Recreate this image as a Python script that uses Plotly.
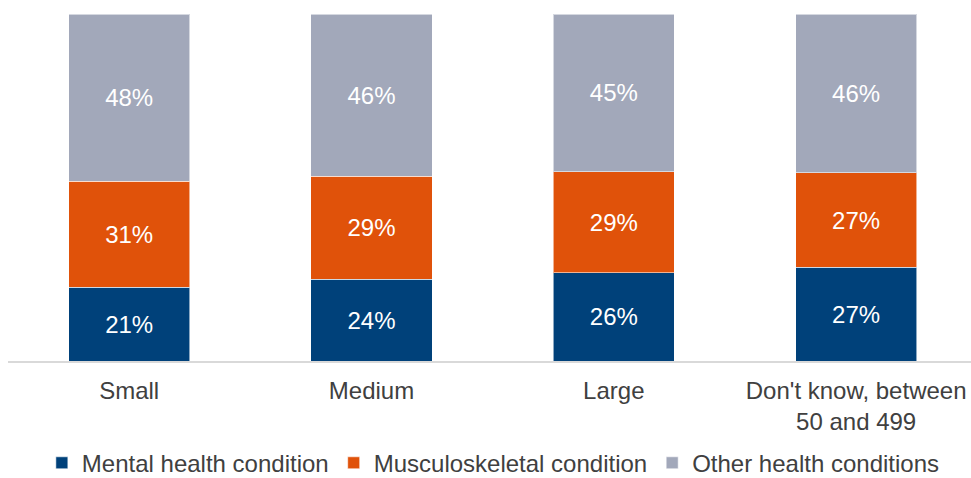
import plotly.graph_objects as go

categories = ["Small", "Medium", "Large", "Don't know, between<br>50 and 499"]
series_names = ["Mental health condition", "Musculoskeletal condition", "Other health conditions"]
mental = [21.2, 23.6, 25.5, 27.0]
musculo = [30.6, 29.7, 29.0, 27.2]
other = [48.2, 46.7, 45.5, 45.8]
mental_labels = ["21%", "24%", "26%", "27%"]
musculo_labels = ["31%", "29%", "29%", "27%"]
other_labels = ["48%", "46%", "45%", "46%"]
colors = ["#00417A", "#E0520A", "#A2A8BA"]

fig = go.Figure()
for name, vals, labels, col in zip(series_names, [mental, musculo, other],
                                   [mental_labels, musculo_labels, other_labels], colors):
    fig.add_trace(go.Bar(
        x=categories, y=vals, name=name, text=labels,
        textposition="inside", insidetextanchor="middle", textangle=0,
        constraintext="none",
        textfont=dict(size=24, color="white", family="Liberation Sans, Arial, sans-serif"),
        marker=dict(color=col, line=dict(color="rgba(255,255,255,0.55)", width=1)),
        hoverinfo="skip",
    ))

fig.update_layout(
    barmode="stack",
    bargap=0.5,
    width=971, height=478,
    margin=dict(l=8, r=0, t=13.5, b=117, autoexpand=False),
    paper_bgcolor="white", plot_bgcolor="white",
    font=dict(family="Liberation Sans, Arial, sans-serif", size=24, color="#404040"),
    showlegend=True,
    legend=dict(orientation="h", x=0.504, xanchor="center", yref="container",
                y=0.031, yanchor="middle", bgcolor="rgba(0,0,0,0)",
                font=dict(size=24, color="#404040"), traceorder="normal",
                itemwidth=30, itemclick=False),
    xaxis=dict(showline=True, linecolor="#d9d9d9", linewidth=1.5, ticks="",
               range=[-0.5, 3.474], automargin=False, ticklabelstandoff=7,
               tickfont=dict(size=24, color="#404040"), showgrid=False),
    yaxis=dict(range=[0, 100], visible=False, showgrid=False),
)

fig.write_html("out.html", config={"displayModeBar": False},
               post_script="document.body.style.margin='0';")
